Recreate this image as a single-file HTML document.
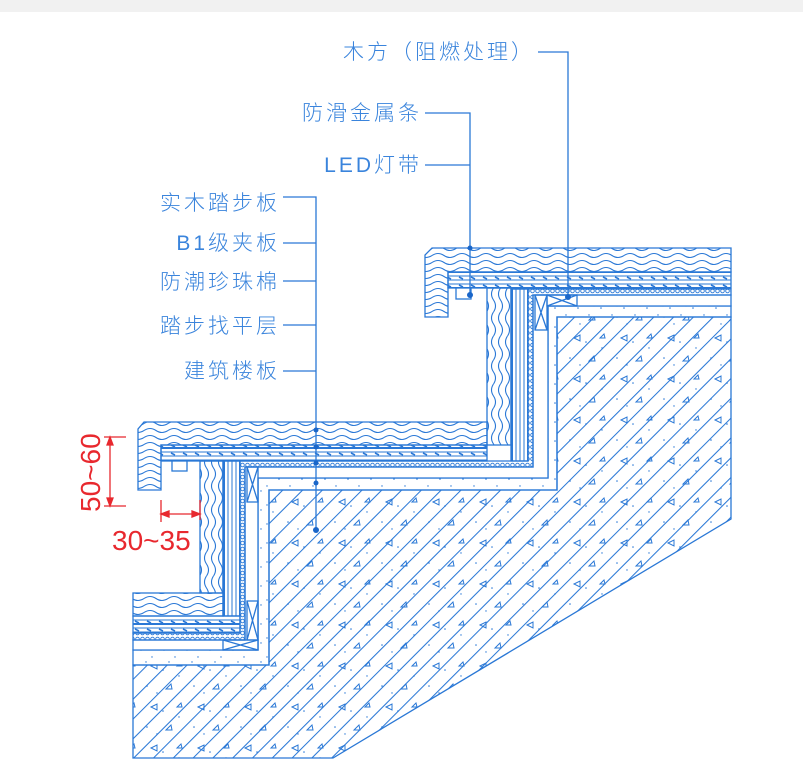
<!DOCTYPE html>
<html><head><meta charset="utf-8"><style>
html,body{margin:0;padding:0;background:#fff;}
svg{display:block;}
.t{font-family:"Liberation Sans","Noto Sans CJK SC",sans-serif;font-size:21px;fill:#3a84dc;letter-spacing:3px;font-weight:300;}
.r{font-family:"Liberation Sans",sans-serif;font-size:28px;fill:#e8282e;}
</style></head><body>
<svg width="803" height="784" viewBox="0 0 803 784" xmlns="http://www.w3.org/2000/svg">
<defs>
<pattern id="wood" width="24" height="7" patternUnits="userSpaceOnUse">
<path d="M0 3.5 Q6 -0.5 12 3.5 T24 3.5" fill="none" stroke="#2a78d6" stroke-width="1.1"/>
</pattern>
<pattern id="woodv" width="7" height="24" patternUnits="userSpaceOnUse">
<path d="M3.5 0 Q-0.5 6 3.5 12 T3.5 24" fill="none" stroke="#2a78d6" stroke-width="1.1"/>
</pattern>
<pattern id="ply" width="12" height="16" patternUnits="userSpaceOnUse">
<path d="M0 0.5H12M0 4H12M0 8H12M0 12H12M0 15.5H12" stroke="#2a78d6" stroke-width="1"/>
<path d="M3 5L7 7M3 13L7 15" stroke="#2a78d6" stroke-width="1.6"/>
</pattern>
<pattern id="plyv" width="16" height="12" patternUnits="userSpaceOnUse">
<path d="M0.5 0V12M4 0V12M8 0V12M12 0V12M15.5 0V12" stroke="#2a78d6" stroke-width="1"/>
</pattern>
<pattern id="foam" width="5" height="6" patternUnits="userSpaceOnUse">
<circle cx="2.5" cy="3" r="1.8" fill="none" stroke="#2a78d6" stroke-width="0.9"/>
</pattern>
<pattern id="dots" width="23" height="19" patternUnits="userSpaceOnUse">
<circle cx="3" cy="4" r="0.8" fill="#2a78d6"/><circle cx="14" cy="11" r="0.7" fill="#2a78d6"/><circle cx="19" cy="2" r="0.6" fill="#2a78d6"/><circle cx="8" cy="16" r="0.7" fill="#2a78d6"/>
</pattern>
<pattern id="hatch" width="14" height="14" patternUnits="userSpaceOnUse" patternTransform="rotate(-45)">
<path d="M0 0.5H14" stroke="#2a78d6" stroke-width="1.1"/>
</pattern>
<pattern id="tri" width="47" height="41" patternUnits="userSpaceOnUse">
<path d="M10 10l6 -3v6z M30 28l-5 5h6z M40 6l-4 4h5z" fill="none" stroke="#2a78d6" stroke-width="1"/>
<circle cx="22" cy="14" r="0.8" fill="#2a78d6"/><circle cx="6" cy="30" r="0.8" fill="#2a78d6"/><circle cx="38" cy="20" r="0.7" fill="#2a78d6"/><circle cx="16" cy="37" r="0.7" fill="#2a78d6"/>
</pattern>
</defs>
<rect x="0" y="0" width="803" height="12" fill="#f1f1f1"/>
<g stroke="#2a78d6" stroke-width="1.3">
<path d="M548 306H731V317H557V490H269V665H133V650H258V478H548Z" fill="url(#dots)"/>
<path d="M557 317H731V519L333 758H133V665H269V490H557Z" fill="url(#hatch)"/>
<path d="M557 317H731V519L333 758H133V665H269V490H557Z" fill="url(#tri)" stroke="none"/>
<path d="M533 295H731V306H548V478H258V650H133V640H245V467H533Z" fill="#fff"/>
<rect x="535" y="295" width="12" height="35" fill="none"/><path d="M535 295L547 330M547 295L535 330" />
<rect x="547" y="295" width="30" height="11" fill="none"/><path d="M547 295L577 306M577 295L547 306"/>
<rect x="247" y="467" width="11" height="35" fill="none"/><path d="M247 467L258 502M258 467L247 502"/>
<rect x="247" y="601" width="11" height="39" fill="none"/><path d="M247 601L258 640M258 601L247 640"/>
<rect x="223" y="640" width="35" height="10" fill="none"/><path d="M223 640L258 650M258 640L223 650"/>
<path d="M511 289H731V295H533V467H245V640H133V633H240V461H528V289Z" fill="url(#foam)"/>
<rect x="448" y="272" width="283" height="16" fill="url(#ply)"/>
<rect x="161" y="445" width="326" height="16" fill="url(#ply)"/>
<rect x="133" y="616" width="107" height="17" fill="url(#ply)"/>
<rect x="511" y="289" width="17" height="172" fill="url(#plyv)"/>
<rect x="223" y="461" width="17" height="155" fill="url(#plyv)"/>
<path d="M432 248H731V272H448V317H425V255Z" fill="url(#wood)"/>
<rect x="487" y="288" width="24" height="157" fill="url(#woodv)"/>
<path d="M144 422H487V445H161V490H138V429Z" fill="url(#wood)"/>
<rect x="200" y="461" width="23" height="132" fill="url(#woodv)"/>
<rect x="133" y="593" width="90" height="23" fill="url(#wood)"/>
<rect x="456" y="288" width="15" height="11" fill="#fff"/>
<rect x="172" y="461" width="15" height="10" fill="#fff"/>
<g fill="none">
<path d="M538 52H568V297M425 113H470V295M425 165H470"/>
<path d="M283 197H316V530M283 243H316M283 281H316M283 325H316M283 371H316"/>
</g>
</g>
<g fill="#1a66c9"><circle cx="470" cy="295" r="3"/><circle cx="568" cy="297" r="3"/><circle cx="470" cy="248" r="2.5"/>
<circle cx="316" cy="430" r="2.5"/><circle cx="316" cy="447" r="2.5"/><circle cx="316" cy="463" r="2.5"/><circle cx="316" cy="483" r="2.5"/><circle cx="316" cy="530" r="3"/></g>
<g class="t">
<text x="535" y="59" text-anchor="end">木方（阻燃处理）</text>
<text x="422" y="120" text-anchor="end">防滑金属条</text>
<text x="422" y="172" text-anchor="end">LED灯带</text>
<text x="280" y="210" text-anchor="end">实木踏步板</text>
<text x="280" y="250" text-anchor="end">B1级夹板</text>
<text x="280" y="289" text-anchor="end">防潮珍珠棉</text>
<text x="280" y="333" text-anchor="end">踏步找平层</text>
<text x="280" y="378" text-anchor="end">建筑楼板</text>
</g>
<g stroke="#e8282e" stroke-width="1.3" fill="#e8282e">
<path d="M104 437H126M104 506H126M110 437V506M161 500V522M200 500V520M161 514H200" fill="none"/>
<path d="M110 437l-3 8h6zM110 506l-3 -8h6zM161 514l8 -3v6zM200 514l-8 -3v6z"/>
</g>
<text class="r" transform="translate(100,512) rotate(-90)">50~60</text>
<text class="r" x="112" y="550">30~35</text>
</svg>
</body></html>
